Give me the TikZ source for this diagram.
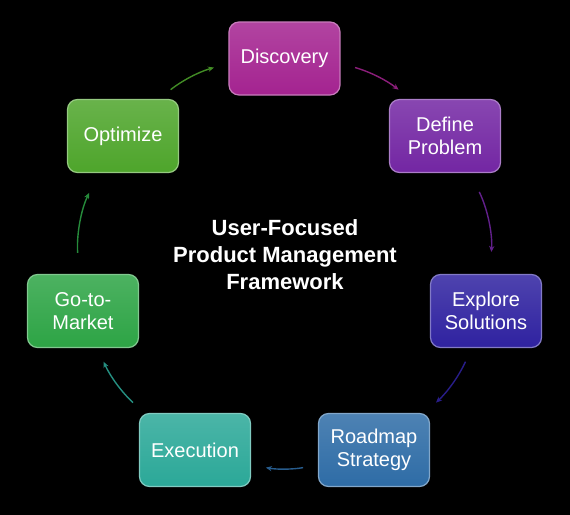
\documentclass[tikz,border=0pt]{standalone}
\usepackage{fontspec}
\setmainfont{Liberation Sans}
\usetikzlibrary{arrows.meta}

\definecolor{discc}{HTML}{A42390}
\definecolor{defc}{HTML}{7326A3}
\definecolor{expc}{HTML}{2F22A0}
\definecolor{roadc}{HTML}{2E6CA6}
\definecolor{exec}{HTML}{2BA898}
\definecolor{goc}{HTML}{2DA445}
\definecolor{optc}{HTML}{4EA52B}

\begin{document}
\begin{tikzpicture}[
  x=0.5pt,y=0.5pt,
  stage/.style={rectangle,rounded corners=5pt,minimum width=55.5pt,minimum height=36.5pt,align=center,text=white,font=\fontsize{10}{11.5}\selectfont,line width=0.6pt,draw=#1!60!white,top color=#1!85!white,bottom color=#1},
  arr/.style={-{Stealth[length=3pt,width=2.6pt]},line width=0.7pt,draw=#1!85!black,shorten <=7.5pt,shorten >=7.5pt},
  far/.style={shorten <=10.5pt,shorten >=11pt},
  title/.style={align=center,text=white,font=\bfseries\fontsize{11}{13.5}\selectfont}
]
\fill[black] (-284.5,-253) rectangle (285.5,262);
\node[title] (ttl) at (0.5,7) {User-Focused\\Product Management\\Framework};
\node[stage=discc] (disc) at (0,203.5) {Discovery};
\node[stage=defc] (def) at (160.5,126) {Define\\Problem};
\node[stage=expc] (exp) at (201.5,-49) {Explore\\Solutions};
\node[stage=roadc] (road) at (89.5,-188) {Roadmap\\Strategy};
\node[stage=exec] (exe) at (-89.5,-188) {Execution};
\node[stage=goc] (go) at (-201.5,-49) {Go-to-\\Market};
\node[stage=optc] (opt) at (-161.5,126) {Optimize};
% arcs follow the ring, clockwise
\draw[arr=discc] (disc.-5) to[bend left=11] (def.133);
\draw[arr=defc,far] (def.-56) to[bend left=15] (exp.84);
\draw[arr=expc] (exp.249) to[bend left=11] (road.36);
\draw[arr=roadc] (road.195) to[bend left=10] (exe.-15);
\draw[arr=exec] (exe.144) to[bend left=11] (go.-69);
\draw[arr=goc,far] (go.96) to[bend left=15] (opt.237);
\draw[arr=optc] (opt.46) to[bend left=11] (disc.185);
\end{tikzpicture}
\end{document}
